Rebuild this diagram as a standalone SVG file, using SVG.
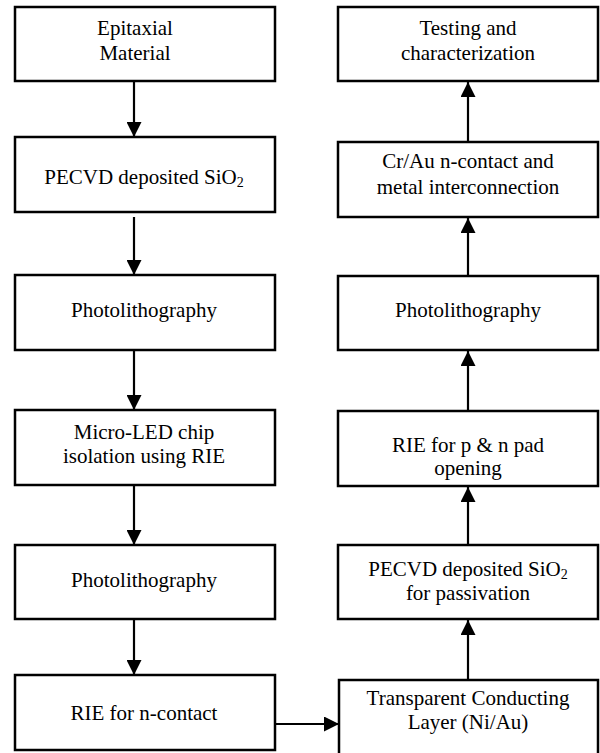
<svg xmlns="http://www.w3.org/2000/svg" width="600" height="753" viewBox="0 0 600 753">
<style>
.box{fill:#fff;stroke:#000;stroke-width:2.5}
.conn{stroke:#000;stroke-width:2.2;fill:none}
</style>
<defs>
<marker id="ah" markerWidth="15" markerHeight="15" viewBox="0 0 15 15" refX="15" refY="7.5" orient="auto" markerUnits="userSpaceOnUse">
<path d="M0,0 L15,7.5 L0,15 Z" fill="#000"/>
</marker>
</defs>
<rect width="600" height="753" fill="#fff"/>
<g font-family="'Liberation Serif', 'Times New Roman', 'DejaVu Serif', serif" font-size="21" text-anchor="middle" fill="#000">
<g id="n1"><rect class="box" x="15" y="7" width="260" height="74"/><text x="135" y="35">Epitaxial</text><text x="135" y="60">Material</text></g>
<g id="n2"><rect class="box" x="15" y="137" width="260" height="75"/><text x="144" y="184">PECVD deposited SiO<tspan font-size="14" dy="3">2</tspan></text></g>
<g id="n3"><rect class="box" x="15" y="275" width="260" height="75"/><text x="144" y="317">Photolithography</text></g>
<g id="n4"><rect class="box" x="15" y="410" width="260" height="75"/><text x="144" y="439">Micro-LED chip</text><text x="144" y="463">isolation using RIE</text></g>
<g id="n5"><rect class="box" x="15" y="545" width="260" height="74"/><text x="144" y="587">Photolithography</text></g>
<g id="n6"><rect class="box" x="15" y="675" width="260" height="75"/><text x="144" y="720">RIE for n-contact</text></g>
<g id="n7"><rect class="box" x="339" y="680" width="259" height="80"/><text x="468" y="705">Transparent Conducting</text><text x="468" y="729">Layer (Ni/Au)</text></g>
<g id="n8"><rect class="box" x="338" y="545" width="260" height="74"/><text x="468" y="576">PECVD deposited SiO<tspan font-size="14" dy="3">2</tspan></text><text x="468" y="600">for passivation</text></g>
<g id="n9"><rect class="box" x="338" y="411" width="260" height="75"/><text x="468" y="452">RIE for p &amp; n pad</text><text x="468" y="475">opening</text></g>
<g id="n10"><rect class="box" x="338" y="276" width="260" height="74"/><text x="468" y="317">Photolithography</text></g>
<g id="n11"><rect class="box" x="338" y="142" width="260" height="75"/><text x="468" y="168">Cr/Au n-contact and</text><text x="468" y="194">metal interconnection</text></g>
<g id="n12"><rect class="box" x="338" y="7" width="260" height="74"/><text x="468" y="35">Testing and</text><text x="468" y="60">characterization</text></g>
</g>
<g id="connectors">
<line class="conn" x1="134" y1="82" x2="134" y2="137" marker-end="url(#ah)"/>
<line class="conn" x1="134" y1="217" x2="134" y2="275" marker-end="url(#ah)"/>
<line class="conn" x1="134" y1="351" x2="134" y2="410" marker-end="url(#ah)"/>
<line class="conn" x1="134" y1="486" x2="134" y2="545" marker-end="url(#ah)"/>
<line class="conn" x1="134" y1="620" x2="134" y2="675" marker-end="url(#ah)"/>
<line class="conn" x1="276" y1="724" x2="339" y2="724" marker-end="url(#ah)"/>
<line class="conn" x1="468" y1="680" x2="468" y2="620" marker-end="url(#ah)"/>
<line class="conn" x1="468" y1="545" x2="468" y2="487" marker-end="url(#ah)"/>
<line class="conn" x1="468" y1="411" x2="468" y2="351" marker-end="url(#ah)"/>
<line class="conn" x1="468" y1="276" x2="468" y2="218" marker-end="url(#ah)"/>
<line class="conn" x1="468" y1="142" x2="468" y2="82" marker-end="url(#ah)"/>
</g>
</svg>
